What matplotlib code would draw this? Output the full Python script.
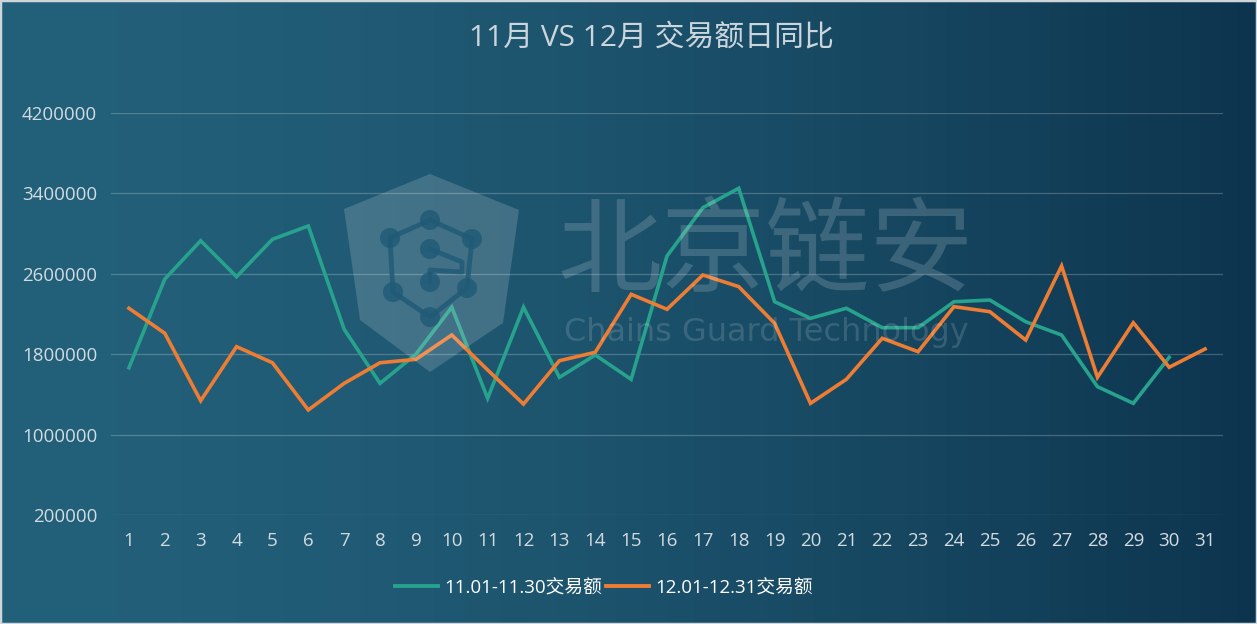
import numpy as np
import matplotlib
matplotlib.use("Agg")
import matplotlib.pyplot as plt
import matplotlib.ticker
from matplotlib.patches import Polygon, Ellipse, Rectangle
from matplotlib.lines import Line2D

plt.rcParams['font.family'] = ['Open Sans', 'Noto Sans CJK SC', 'DejaVu Sans']
plt.rcParams['axes.unicode_minus'] = False

# data
days = list(range(1, 32))
nov_days = days[:30]
nov_amount = [1665000, 2548000, 2929000, 2571000, 2943000, 3076000, 2048000, 1510000,
              1800000, 2267000, 1361000, 2267000, 1570000, 1792000, 1550000, 2777000,
              3258000, 3451000, 2322000, 2157000, 2257000, 2064000, 2064000, 2322000,
              2339000, 2123000, 1991000, 1477000, 1311000, 1769000]
dec_amount = [2257000, 2008000, 1337000, 1875000, 1715000, 1245000, 1510000, 1715000,
              1749000, 1991000, 1643000, 1304000, 1735000, 1819000, 2396000, 2247000,
              2588000, 2472000, 2107000, 1311000, 1550000, 1958000, 1825000, 2273000,
              2223000, 1941000, 2678000, 1570000, 2113000, 1670000, 1852000]
y_ticks = [200000, 1000000, 1800000, 2600000, 3400000, 4200000]
nov_label = "11.01-11.30交易额"
dec_label = "12.01-12.31交易额"
title = "11月 VS 12月 交易额日同比"

W, H = 1257, 624
fig = plt.figure(figsize=(W / 100, H / 100), dpi=100)

# background gradient (left lighter, right darker)
bg = fig.add_axes([0, 0, 1, 1], zorder=-10)
bg.set_axis_off()
t = np.linspace(0, 1, 400) ** 1.6
c_left = np.array([35, 96, 122]) / 255
c_right = np.array([13, 52, 78]) / 255
grad = c_left[None, :] * (1 - t[:, None]) + c_right[None, :] * t[:, None]
bg.imshow(grad[None, :, :], aspect="auto", extent=[0, 1, 0, 1])
bg.set_xlim(0, 1)
bg.set_ylim(0, 1)
bg.add_patch(Rectangle((0, 0), 1, 1, transform=bg.transAxes, fill=False,
                       edgecolor="#cfd6da", linewidth=2.5))


def px(x, y):
    # pixel position (from top-left) -> figure fraction
    return (x / W, 1 - y / H)


ax = fig.add_axes([111 / W, 1 - 515 / H, (1223 - 111) / W, (515 - 113) / H])
ax.patch.set_alpha(0)

ax.plot(nov_days, nov_amount, color="#27a28c", linewidth=2.6, label=nov_label,
        solid_joinstyle="miter", zorder=3)
ax.plot(days, dec_amount, color="#ee7d33", linewidth=2.6, label=dec_label,
        solid_joinstyle="miter", zorder=3)

ax.set_xlim(0.5, 31.5)
ax.set_ylim(200000, 4200000)
ax.set_xticks(days)
ax.set_yticks(y_ticks)
ax.yaxis.set_major_formatter(matplotlib.ticker.FuncFormatter(lambda v, p: "%d" % v))
ax.grid(axis="y", color="#ffffff", alpha=0.22, linewidth=0.9)
ax.grid(axis="x", visible=False)
for s in ax.spines.values():
    s.set_visible(False)
ax.tick_params(axis="both", length=0, labelsize=13.5, colors="#d3dbe0")
ax.tick_params(axis="y", pad=10)
ax.tick_params(axis="x", pad=12)

fig.text(*px(651, 38), title, ha="center", va="center", fontsize=21.5, color="#cbd5dc")

# legend
handles = [Line2D([], [], color="#27a28c", linewidth=2.8),
           Line2D([], [], color="#ee7d33", linewidth=2.8)]
fig.legend(handles, [nov_label, dec_label], loc="center", bbox_to_anchor=px(604, 588),
           ncol=2, frameon=False, fontsize=13.5, labelcolor="#ffffff",
           handlelength=2.3, handletextpad=0.35, columnspacing=0.2)

# watermark: shield logo + company name
wm = dict(transform=fig.transFigure, zorder=20)
shield = [px(430, 174), px(344, 209), px(360, 320), px(430, 372), px(503, 323), px(519, 210)]
fig.patches.append(Polygon(shield, closed=True, facecolor="#ffffff", alpha=0.16,
                           edgecolor="none", **wm))
nodes = [(430, 220), (472, 239), (467, 288), (430, 317), (393, 292), (390, 238)]
ring = [px(*n) for n in nodes] + [px(*nodes[0])]
fig.lines.append(Line2D([p[0] for p in ring], [p[1] for p in ring], color="#1f5a76",
                        linewidth=3.5, alpha=0.8, transform=fig.transFigure, zorder=21))
s_path = [px(430, 249), px(462, 262), px(462, 272), px(430, 270), px(430, 282)]
fig.lines.append(Line2D([p[0] for p in s_path], [p[1] for p in s_path], color="#1f5a76",
                        linewidth=3.5, alpha=0.8, transform=fig.transFigure, zorder=21))
for n in nodes + [(430, 249), (430, 282)]:
    fig.patches.append(Ellipse(px(*n), 20 / W, 20 / H, facecolor="#1f5a76", alpha=0.8,
                               edgecolor="none", transform=fig.transFigure, zorder=21))
fig.text(*px(766, 255), "北京链安", ha="center", va="center", fontsize=75,
         color="#ffffff", alpha=0.16, zorder=22, family=["Noto Sans CJK SC"])
fig.text(*px(766, 332), "Chains Guard Technology", ha="center", va="center",
         fontsize=23, color="#ffffff", alpha=0.14, zorder=22,
         family=["DejaVu Sans"])

fig.savefig("out.png", dpi=100)
